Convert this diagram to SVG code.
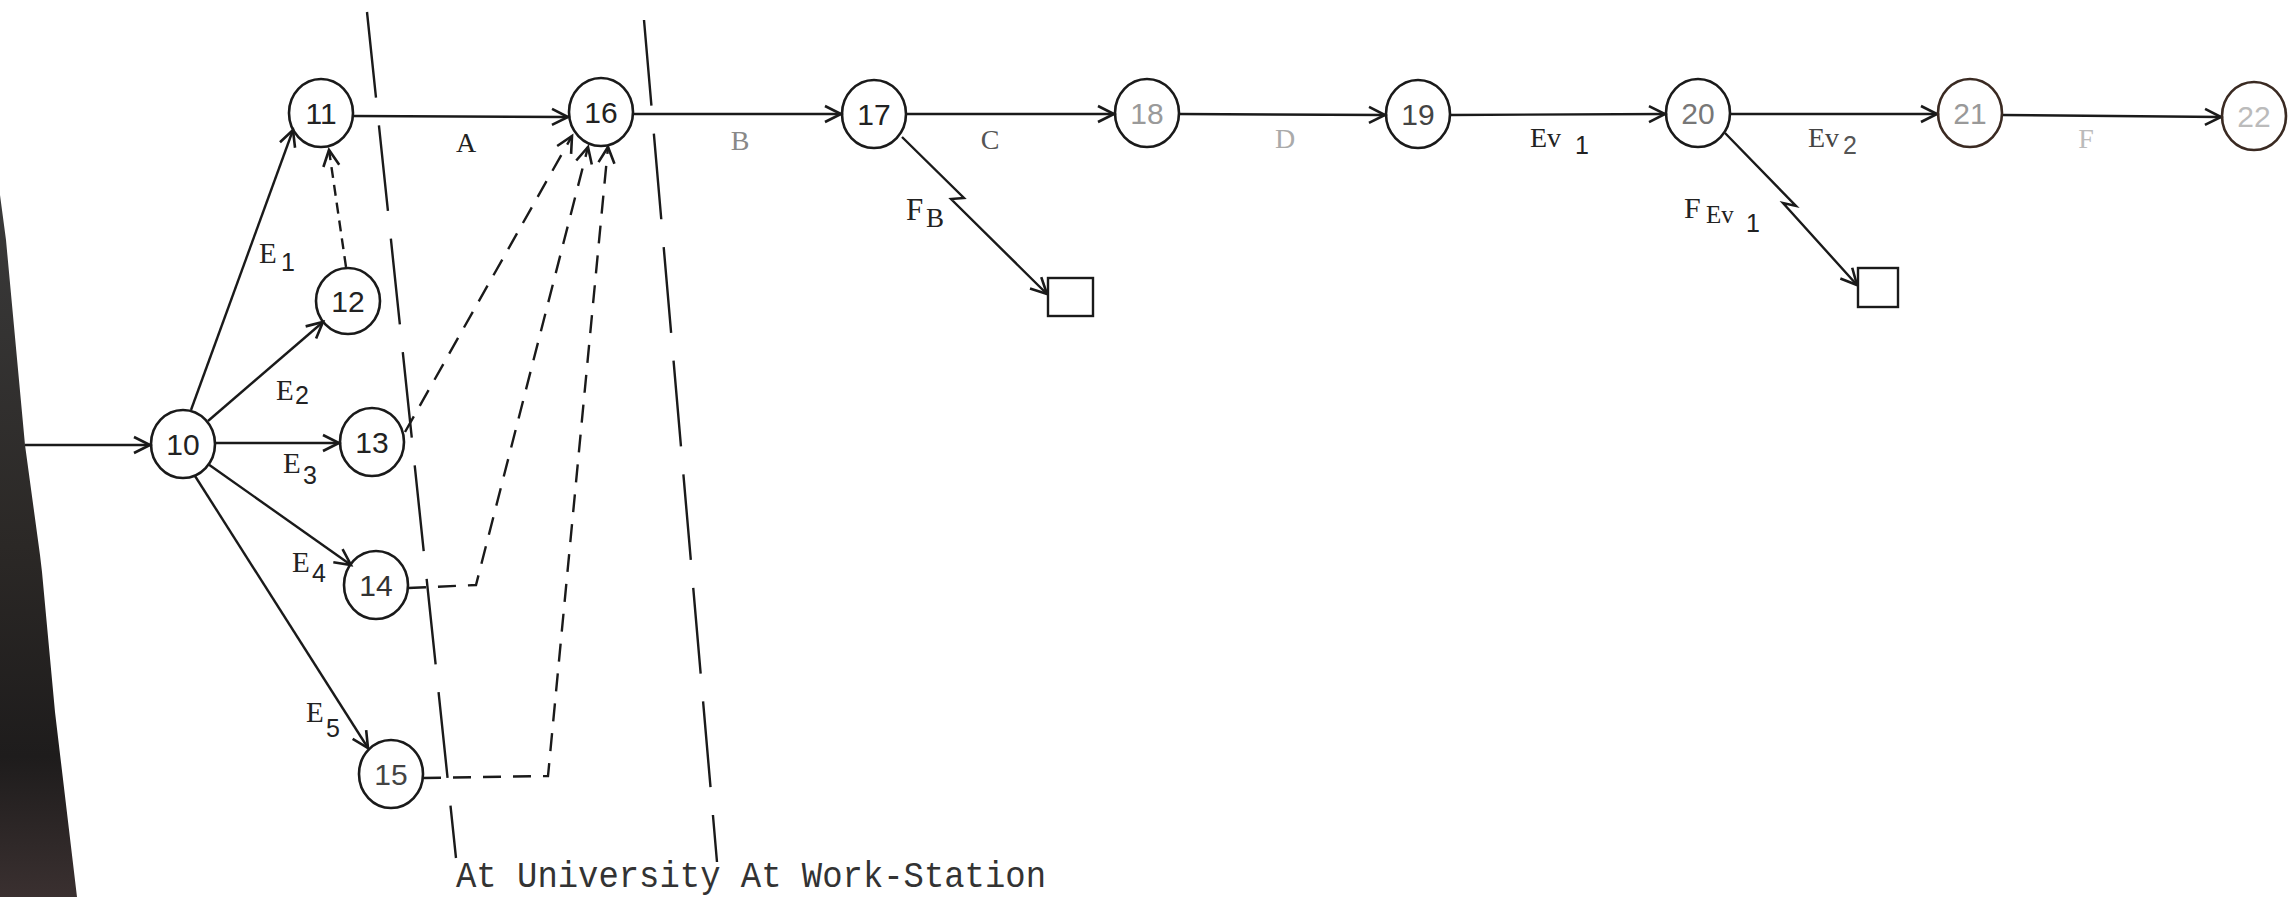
<svg xmlns="http://www.w3.org/2000/svg" width="2291" height="897" viewBox="0 0 2291 897">
<style>
.node ellipse{fill:none;stroke:#1a1a1a;stroke-width:2.6}
.node text{font-family:"Liberation Sans",Arial,sans-serif;font-size:30px;text-anchor:middle;fill:#222}
.edge{fill:none;stroke:#1a1a1a;stroke-width:2.4}
.dash{stroke-dasharray:18 12}
.bound{fill:none;stroke:#1a1a1a;stroke-width:2.4;stroke-dasharray:86 28}
.lbl{font-family:"Liberation Serif","Times New Roman",serif;font-size:28px;fill:#222}
.sub{font-family:"Liberation Sans",Arial,sans-serif;font-size:25px;fill:#222}
.foot{font-family:"Liberation Mono","Courier New",monospace;font-size:36px;fill:#333}
.box{fill:none;stroke:#1a1a1a;stroke-width:2.4}
</style>
<defs>
<marker id="arr" markerUnits="userSpaceOnUse" markerWidth="30" markerHeight="30" viewBox="-20 -15 30 30" refX="0" refY="0" orient="auto" overflow="visible">
<path d="M-16,-8 L0,0 L-16,8" fill="none" stroke="#1a1a1a" stroke-width="2.6"/>
</marker>
<linearGradient id="band" x1="0" y1="0" x2="0" y2="1">
<stop offset="0" stop-color="#3a3a3a"/>
<stop offset="0.5" stop-color="#2b2826"/>
<stop offset="0.8" stop-color="#1e1c1c"/>
<stop offset="1" stop-color="#3a3030"/>
</linearGradient>
</defs>
<rect x="0" y="0" width="2291" height="897" fill="#ffffff"/>
<polygon points="0,195 6,240 25,445 40,555 42,572 55,712 77,897 0,897" fill="url(#band)"/>

<g id="boundaries">
<line class="bound" x1="367" y1="12" x2="456" y2="858"/>
<line class="bound" x1="644" y1="20" x2="717" y2="862"/>
</g>

<g id="connectors">
<path class="edge" d="M25,445 L150,445" marker-end="url(#arr)"/>
<path class="edge" d="M191,410 L293,130" marker-end="url(#arr)"/>
<path class="edge" d="M208,421 L323,322" marker-end="url(#arr)"/>
<path class="edge" d="M215,443 L339,443" marker-end="url(#arr)"/>
<path class="edge" d="M208,464 L351,565" marker-end="url(#arr)"/>
<path class="edge" d="M195,476 L368,748" marker-end="url(#arr)"/>
<path class="edge" d="M346,267 L329,150" stroke-width="3" stroke-dasharray="11 7" marker-end="url(#arr)"/>
<path class="edge" d="M353,116 L568,117" marker-end="url(#arr)"/>
<path class="edge dash" d="M405,432 L572,136" marker-end="url(#arr)"/>
<path class="edge dash" d="M408,588 L476,585 L588,147" marker-end="url(#arr)"/>
<path class="edge dash" d="M423,778 L548,776 L608,147" marker-end="url(#arr)"/>
<path class="edge" d="M633,114 L841,114" marker-end="url(#arr)"/>
<path class="edge" d="M906,114 L1114,114" marker-end="url(#arr)"/>
<path class="edge" d="M1179,114 L1385,115" marker-end="url(#arr)"/>
<path class="edge" d="M1450,115 L1665,114" marker-end="url(#arr)"/>
<path class="edge" d="M1730,114 L1937,114" stroke="#2a2220" marker-end="url(#arr)"/>
<path class="edge" d="M2002,115 L2221,117" stroke="#2a2220" marker-end="url(#arr)"/>
<path class="edge" d="M902,137 L964,198 L951,199 L1047,294" marker-end="url(#arr)"/>
<path class="edge" d="M1725,133 L1796,206 L1783,203 L1857,285" marker-end="url(#arr)"/>
</g>

<g id="n10" class="node"><ellipse cx="183" cy="444" rx="32" ry="34"/><text x="183" y="455">10</text></g>
<g id="n11" class="node"><ellipse cx="321" cy="113" rx="32" ry="34"/><text x="321" y="124">11</text></g>
<g id="n12" class="node"><ellipse cx="348" cy="301" rx="32" ry="33"/><text x="348" y="312">12</text></g>
<g id="n13" class="node"><ellipse cx="372" cy="442" rx="32" ry="34"/><text x="372" y="453">13</text></g>
<g id="n14" class="node"><ellipse cx="376" cy="585" rx="32" ry="34"/><text x="376" y="596" style="fill:#333">14</text></g>
<g id="n15" class="node"><ellipse cx="391" cy="774" rx="32" ry="34"/><text x="391" y="785" style="fill:#444">15</text></g>
<g id="n16" class="node"><ellipse cx="601" cy="112" rx="32" ry="34"/><text x="601" y="123">16</text></g>
<g id="n17" class="node"><ellipse cx="874" cy="114" rx="32" ry="34"/><text x="874" y="125">17</text></g>
<g id="n18" class="node"><ellipse cx="1147" cy="113" rx="32" ry="34"/><text x="1147" y="124" style="fill:#9a9a9a">18</text></g>
<g id="n19" class="node"><ellipse cx="1418" cy="114" rx="32" ry="34"/><text x="1418" y="125" style="fill:#444">19</text></g>
<g id="n20" class="node"><ellipse cx="1698" cy="113" rx="32" ry="34"/><text x="1698" y="124" style="fill:#777">20</text></g>
<g id="n21" class="node"><ellipse cx="1970" cy="113" rx="32" ry="34" style="stroke:#3a2a22"/><text x="1970" y="124" style="fill:#999">21</text></g>
<g id="n22" class="node"><ellipse cx="2254" cy="116" rx="32" ry="34" style="stroke:#3a2a22"/><text x="2254" y="127" style="fill:#bbb">22</text></g>

<g id="boxFB"><rect class="box" x="1048" y="278" width="45" height="38"/></g>
<g id="boxFEv1"><rect class="box" x="1858" y="268" width="40" height="39"/></g>

<g id="labels">
<text class="lbl" x="466" y="152" text-anchor="middle">A</text>
<text class="lbl" x="740" y="150" text-anchor="middle" style="fill:#888">B</text>
<text class="lbl" x="990" y="149" text-anchor="middle" style="fill:#555">C</text>
<text class="lbl" x="1285" y="148" text-anchor="middle" style="fill:#aaa">D</text>
<text class="lbl" x="1530" y="147">Ev</text><text class="sub" x="1575" y="154">1</text>
<text class="lbl" x="1808" y="147" style="fill:#444">Ev</text><text class="sub" x="1843" y="154" style="fill:#555">2</text>
<text class="lbl" x="2086" y="148" text-anchor="middle" style="fill:#bbb">F</text>
<text class="lbl" x="906" y="220" style="font-size:31px">F</text><text class="lbl" x="926" y="227" style="font-size:27px">B</text>
<text class="lbl" x="1684" y="218" style="font-size:30px">F</text><text class="lbl" x="1706" y="223" style="font-size:25px">Ev</text><text class="sub" x="1746" y="232">1</text>
<text class="lbl" x="259" y="263" style="font-size:29px">E</text><text class="sub" x="281" y="271">1</text>
<text class="lbl" x="276" y="400" style="font-size:29px">E</text><text class="sub" x="295" y="404">2</text>
<text class="lbl" x="283" y="473" style="font-size:29px">E</text><text class="sub" x="303" y="484">3</text>
<text class="lbl" x="292" y="572" style="font-size:29px">E</text><text class="sub" x="312" y="582">4</text>
<text class="lbl" x="306" y="722" style="font-size:29px">E</text><text class="sub" x="326" y="737">5</text>
<text class="foot" x="456" y="887" textLength="590" lengthAdjust="spacingAndGlyphs">At University At Work-Station</text>
</g>
</svg>
